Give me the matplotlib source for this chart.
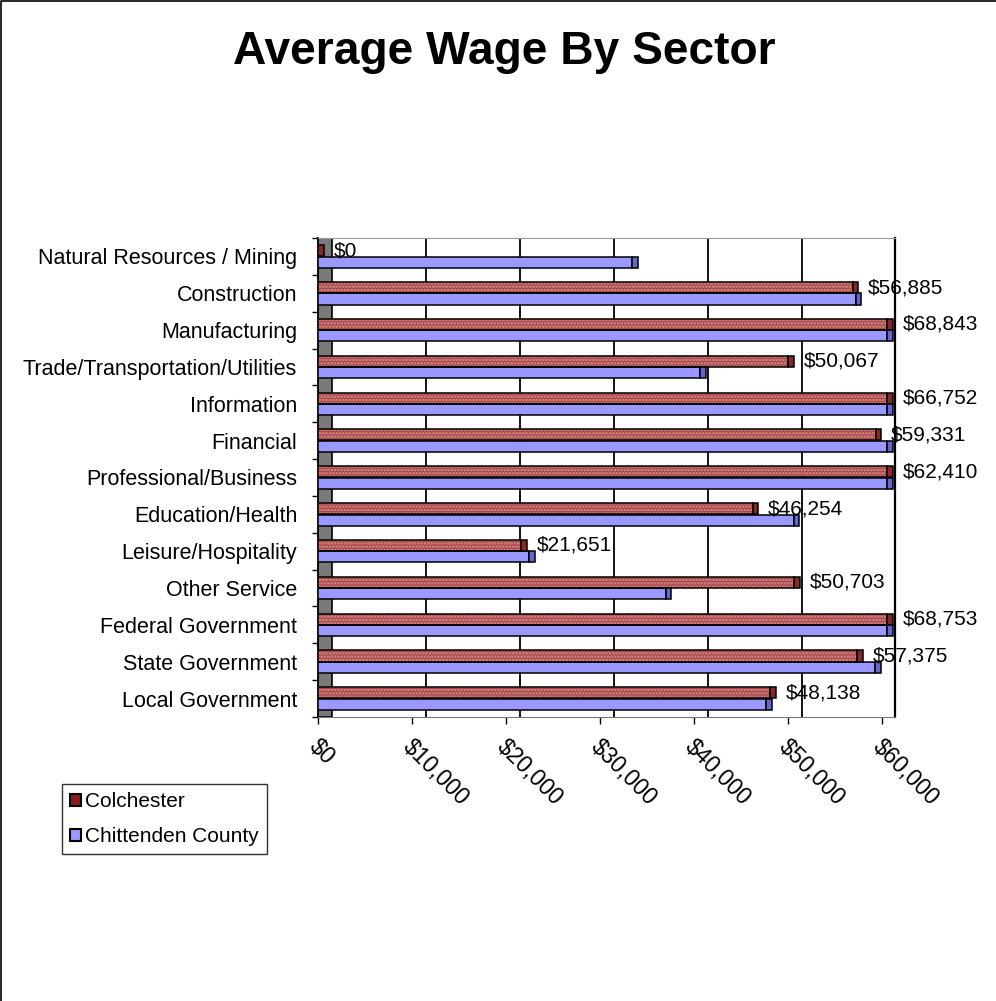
import numpy as np
import matplotlib.pyplot as plt
from matplotlib.patches import Patch, Rectangle
from matplotlib.lines import Line2D

plt.rcParams['font.family'] = ['Liberation Sans', 'DejaVu Sans']
plt.rcParams['hatch.linewidth'] = 1.3

# data read off the chart (Chittenden values are estimated from bar lengths,
# the ones running off the axis are guesses above the clip)
sectors = ["Natural Resources / Mining", "Construction", "Manufacturing",
           "Trade/Transportation/Utilities", "Information", "Financial",
           "Professional/Business", "Education/Health", "Leisure/Hospitality",
           "Other Service", "Federal Government", "State Government",
           "Local Government"]
colchester = [0, 56885, 68843, 50067, 66752, 59331, 62410, 46254, 21651,
              50703, 68753, 57375, 48138]
chittenden = [33400, 57200, 66000, 40700, 65000, 62000, 64000, 50600, 22500,
              37000, 70000, 59300, 47700]
x_ticks = [0, 10000, 20000, 30000, 40000, 50000, 60000]
x_tick_labels = ["$0", "$10,000", "$20,000", "$30,000", "$40,000",
                 "$50,000", "$60,000"]
series_names = ["Colchester", "Chittenden County"]

AXIS_MAX = 61400   # right edge of the back wall
DEPTH = 1500       # fake 3D offset of the back wall
CLIP = 60600       # bars are cut here like in Excel
CAP = 600          # width of the bar end face
BAR_H = 0.3

RED = '#A84545'
RED_DOT = '#DA9494'
RED_CAP = '#8A2828'
BLUE = '#9999FF'
BLUE_CAP = '#6666CC'

fig = plt.figure(figsize=(9.96, 10.01), dpi=100)
ax = fig.add_axes([318 / 996, 1 - 717 / 1001, 577 / 996, 479 / 1001])

y = np.arange(len(sectors))
col = np.array(colchester, dtype=float)
chi = np.array(chittenden, dtype=float)
col_front = np.minimum(col, CLIP)
chi_front = np.minimum(chi, CLIP)

# back wall grid lines and the grey side wall
for t in x_ticks[1:-1]:
    ax.axvline(t + DEPTH, color='black', lw=1.3, zorder=1)
ax.add_patch(Rectangle((0, -0.5), DEPTH, len(sectors), facecolor='#7a7a7a',
                       edgecolor='black', lw=1.2, zorder=1.5))

# Colchester - patterned red
ax.barh(y - 0.155, col_front, height=BAR_H, color=RED, edgecolor=RED_DOT,
        hatch='.....', linewidth=0, zorder=3)
ax.barh(y - 0.155, col_front, height=BAR_H, fill=False, edgecolor='black',
        linewidth=1.1, zorder=3.1)
ax.barh(y - 0.155, CAP, left=col_front, height=BAR_H, color=RED_CAP,
        edgecolor='black', linewidth=1.1, zorder=3.2)

# Chittenden County - plain blue
ax.barh(y + 0.155, chi_front, height=BAR_H, color=BLUE, edgecolor='black',
        linewidth=1.1, zorder=3)
ax.barh(y + 0.155, CAP, left=chi_front, height=BAR_H, color=BLUE_CAP,
        edgecolor='black', linewidth=1.1, zorder=3.2)

# value labels for Colchester
for yi, v, vf in zip(y, col, col_front):
    ax.annotate("${:,.0f}".format(v), (vf + CAP, yi - 0.155),
                xytext=(7, 0), textcoords='offset points',
                ha='left', va='center', fontsize=15, zorder=5,
                annotation_clip=False)

ax.set_xlim(0, AXIS_MAX)
ax.set_ylim(len(sectors) - 0.5, -0.5)

ax.set_yticks(y)
ax.set_yticklabels(sectors, fontsize=15.5)
ax.set_yticks(np.arange(len(sectors) + 1) - 0.5, minor=True)
ax.tick_params(axis='y', which='major', length=0, pad=15)
ax.tick_params(axis='y', which='minor', length=4, width=1, direction='out')

ax.set_xticks(x_ticks)
ax.set_xticklabels([])
ax.tick_params(axis='x', length=5, width=1, direction='out')
for t, lab in zip(x_ticks, x_tick_labels):
    ax.annotate(lab, (t, 0), xycoords=('data', 'axes fraction'),
                xytext=(2, -13), textcoords='offset points',
                rotation=-45, rotation_mode='anchor', ha='left', va='top',
                fontsize=16.5, annotation_clip=False)

ax.spines['top'].set_color('#999999')
ax.spines['bottom'].set_color('#777777')
ax.spines['left'].set_linewidth(1.3)
ax.spines['right'].set_linewidth(1.6)

handles = [Patch(facecolor='#8B1A1A', edgecolor='black', lw=1.5),
           Patch(facecolor=BLUE, edgecolor='black', lw=1.5)]
leg = fig.legend(handles, series_names, loc='upper left',
                 bbox_to_anchor=(62 / 996, 1 - 784 / 1001), fontsize=15,
                 frameon=True, fancybox=False, shadow=False,
                 handlelength=0.5, handleheight=0.5, handletextpad=0.2,
                 borderpad=0.4, labelspacing=0.75, borderaxespad=0)
leg.get_frame().set_edgecolor('black')
leg.get_frame().set_linewidth(1)

fig.text(0.506, 1 - 52 / 1001, "Average Wage By Sector", fontsize=33.2,
         fontweight='bold', ha='center', va='center')

# chart border, only top and left show in the original
fig.add_artist(Line2D([0.001, 0.001, 1], [0, 0.999, 0.999],
                      transform=fig.transFigure, color='black', lw=1.2))

fig.savefig('out.png', dpi=100)
